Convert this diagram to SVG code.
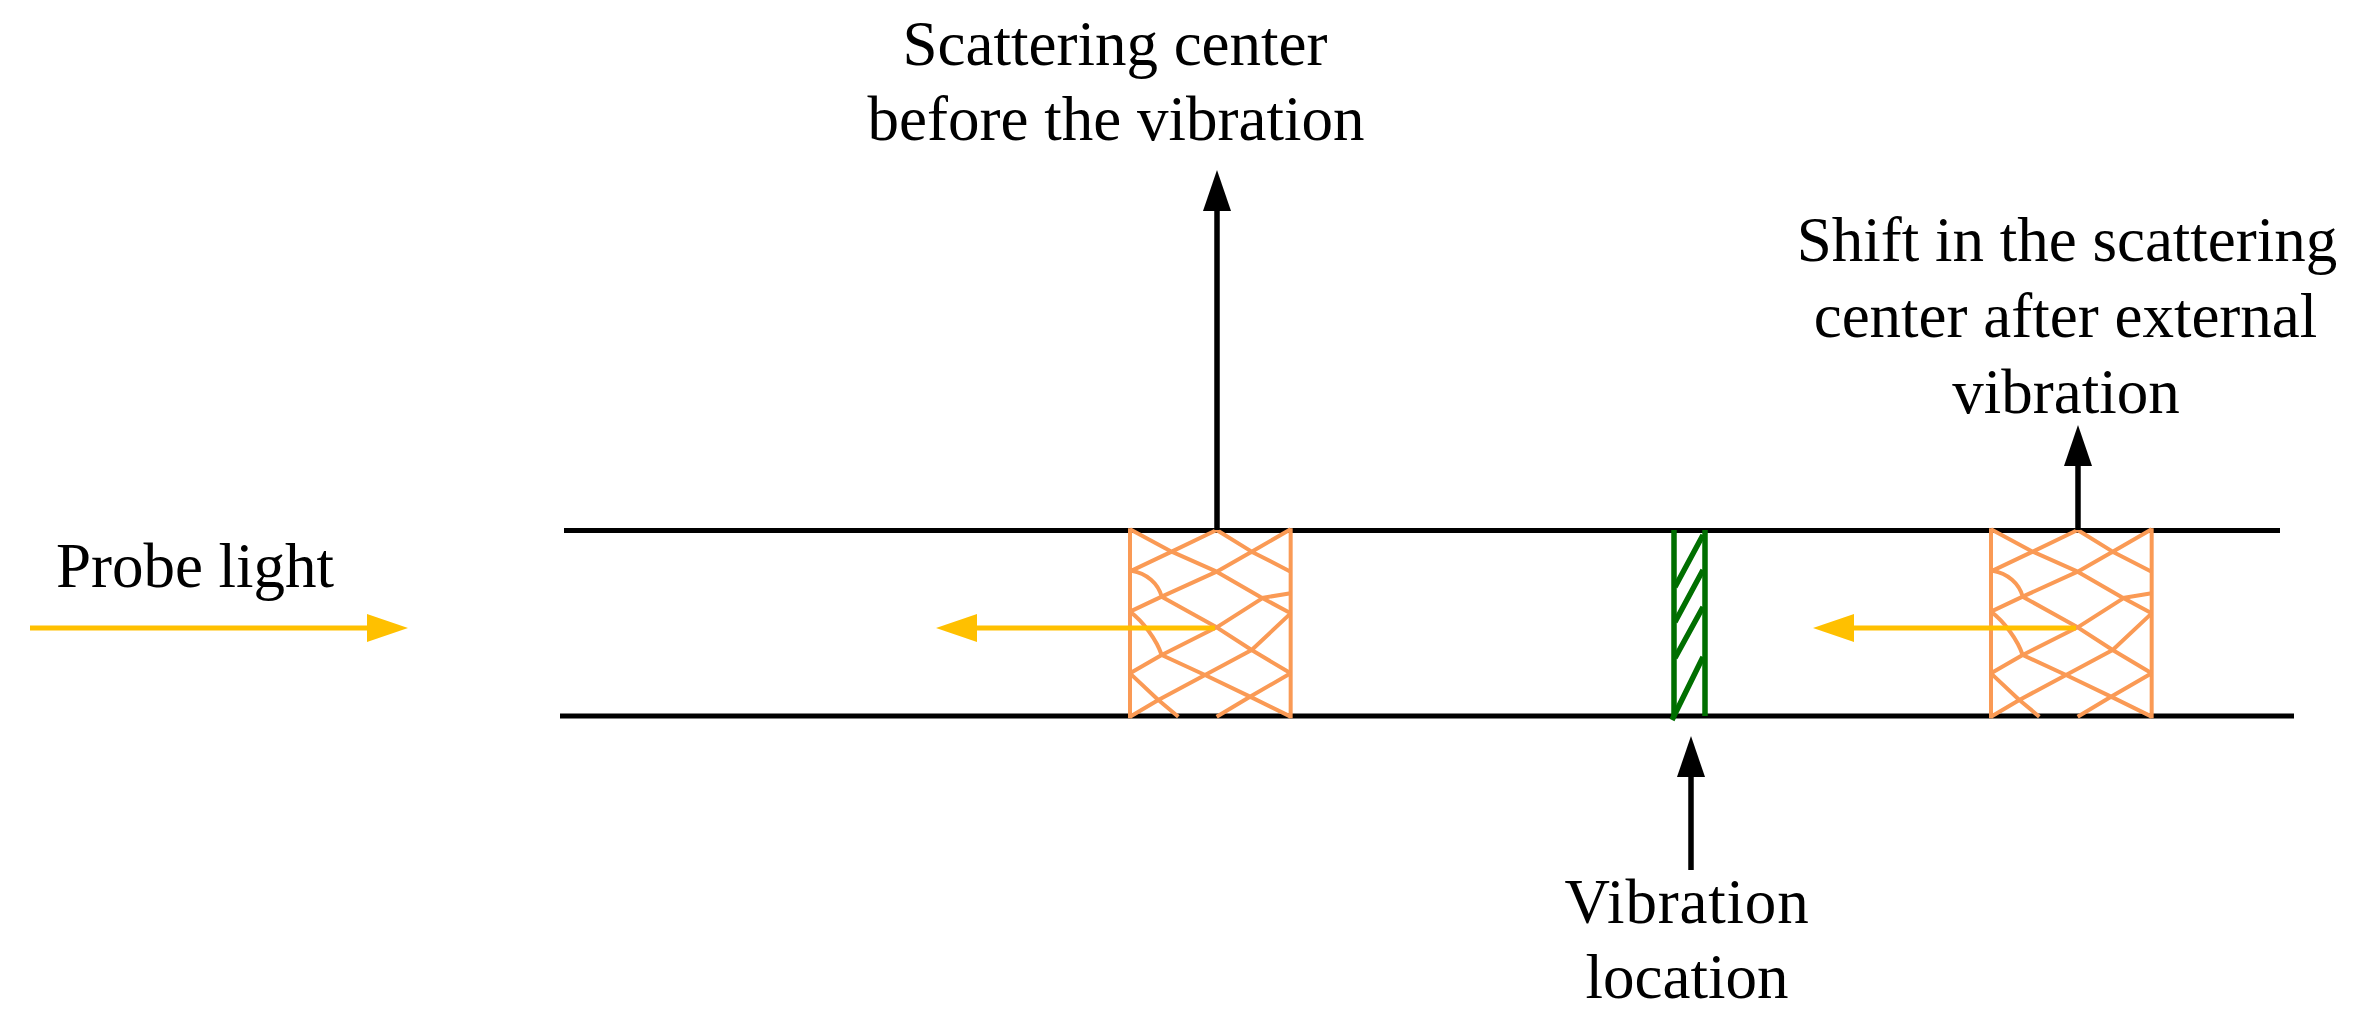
<svg xmlns="http://www.w3.org/2000/svg" width="2356" height="1027" viewBox="0 0 2356 1027">
<style>
text{font-family:"Liberation Serif","Times New Roman",serif;font-size:63px;fill:#000;text-anchor:middle}
.rail{stroke:#000;stroke-width:5;fill:none}
.blk{stroke:#000;stroke-width:5.500;fill:none;marker-end:url(#ah-black)}
.yel{stroke:#FFC000;stroke-width:5;fill:none;marker-end:url(#ah-yellow)}
.net{stroke:#FA9A55;stroke-width:12;fill:none;stroke-linejoin:round}
.grn{stroke:#006F00;stroke-width:5.500;fill:none}
</style>
<defs>
<marker id="ah-black" markerUnits="userSpaceOnUse" markerWidth="41" markerHeight="30" viewBox="0 -15 41 30" refX="0" refY="0" orient="auto"><path d="M0-14L41 0L0 14Z" fill="#000"/></marker>
<marker id="ah-yellow" markerUnits="userSpaceOnUse" markerWidth="41" markerHeight="30" viewBox="0 -15 41 30" refX="0" refY="0" orient="auto"><path d="M0-14L41 0L0 14Z" fill="#FFC000"/></marker>
<g id="net-shape" transform="translate(-30,-30) scale(.33333)">
<path class="net" d="M90 85V655M572 85V655"/>
<path class="net" d="M90 88L215 155L350 215L480 290L572 340M350 90L215 155L95 212M350 90L455 155L572 215M572 88L455 155L350 215L185 290L90 335M95 212C140 220 175 250 185 290M185 290L350 382L455 450L572 520M572 280L490 293L350 382L185 465L90 520M90 335C130 365 170 420 185 465L315 525L450 590L572 650M572 340L455 450L315 525L175 600L90 650M90 520L175 600L235 650M350 650L450 590L572 520"/>
</g>
</defs>
<rect width="2356" height="1027" fill="#fff"/>
<g id="fiber">
<path class="rail" d="M564 530.500H2280"/>
<path class="rail" d="M560 716H2294"/>
</g>
<g id="scatter-before"><use href="#net-shape" x="1130" y="530"/></g>
<g id="scatter-after"><use href="#net-shape" x="1991" y="530"/></g>
<g id="vibration-zone">
<path class="grn" d="M1674 530V716M1705 530V716"/>
<path class="grn" d="M1675 587L1703 535M1675 622L1703 570M1675 658L1703 607M1672 720L1703 657"/>
</g>
<g id="connectors">
<path class="yel" d="M30 628H367"/>
<path class="yel" d="M1215 628H977"/>
<path class="yel" d="M2076 628H1854"/>
<path class="blk" d="M1217 530V211"/>
<path class="blk" d="M2078 530V466"/>
<path class="blk" d="M1691 870V777"/>
</g>
<g id="label-probe"><text x="195" y="587">Probe light</text></g>
<g id="label-before"><text x="1115" y="65">Scattering center</text><text x="1116" y="140">before the vibration</text></g>
<g id="label-shift"><text x="2067" y="261">Shift in the scattering</text><text x="2065.500" y="337">center after external</text><text x="2066" y="413">vibration</text></g>
<g id="label-location"><text x="1687" y="923" letter-spacing=".8">Vibration</text><text x="1687" y="998">location</text></g>
</svg>
